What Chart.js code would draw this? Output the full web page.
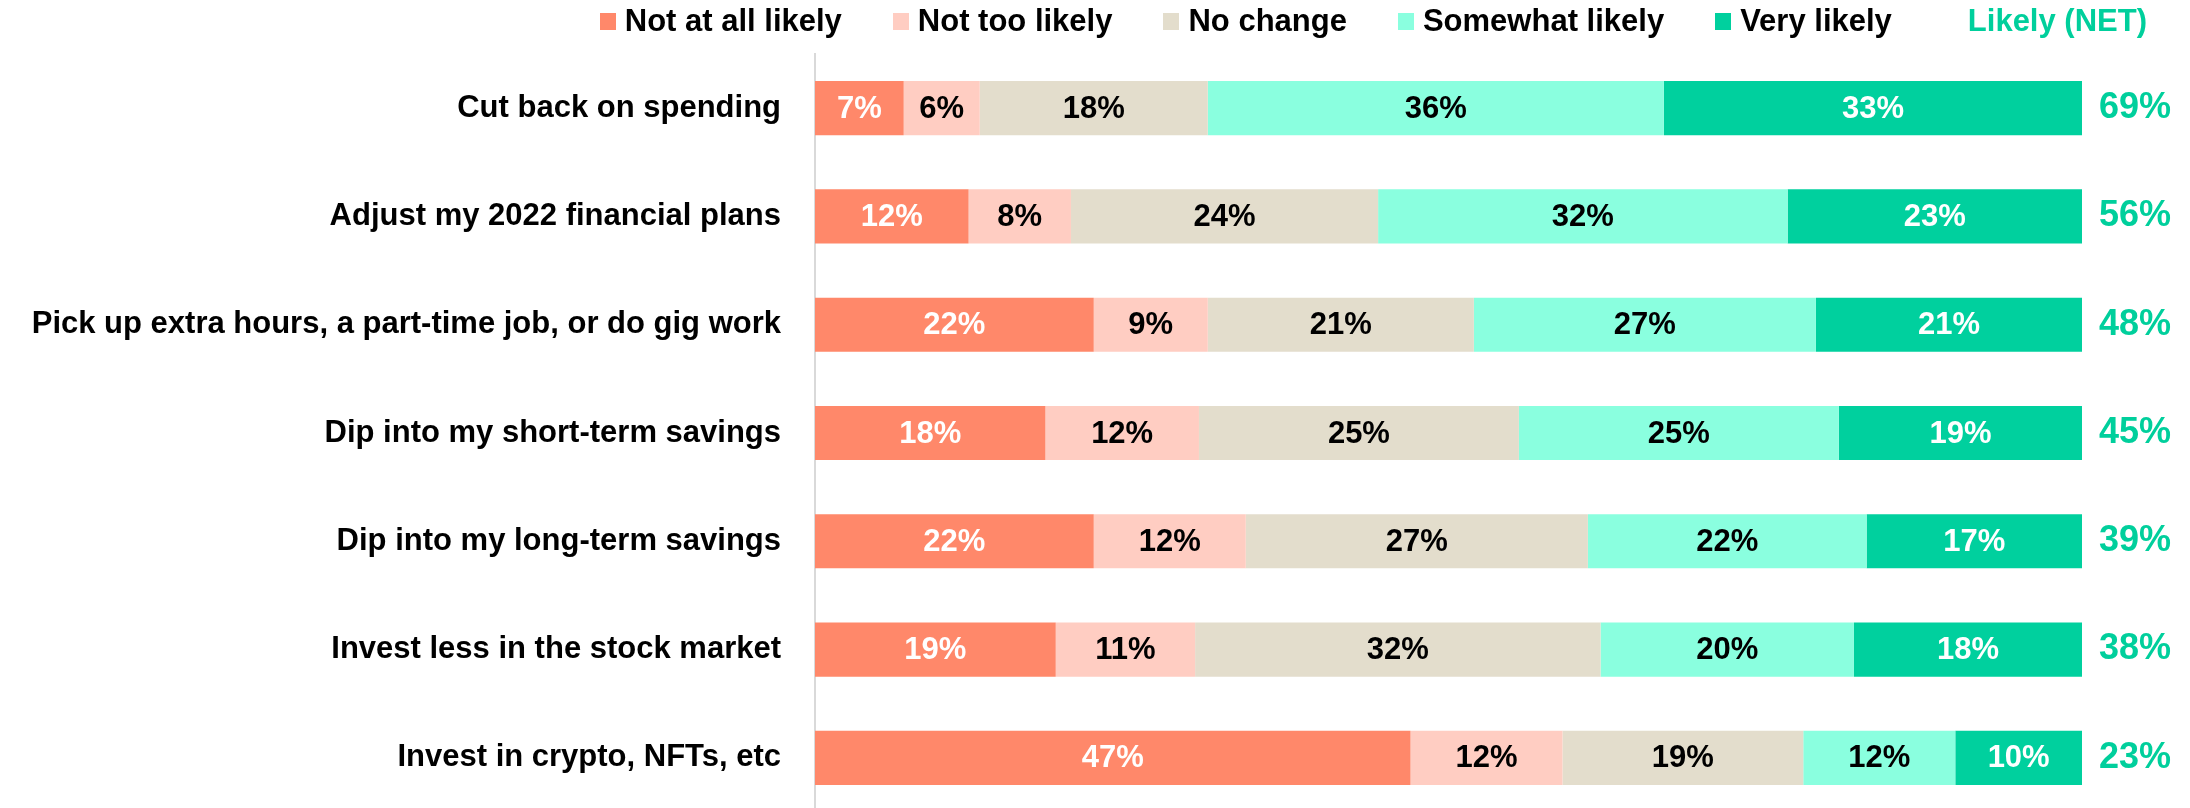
<!DOCTYPE html>
<html>
<head>
<meta charset="utf-8">
<script src="https://cdn.jsdelivr.net/npm/chart.js@4/dist/chart.umd.min.js"></script>
<style>
	html, body { margin: 0; padding: 0; background: #fff; overflow: hidden; }
	#wrap { position: relative; width: 2190px; height: 812px; }
	#likely-chart { display: block; }
	#legend {
		position: absolute; top: 0; right: 43px; height: 42px;
		display: flex; align-items: center; justify-content: flex-end;
		font-family: "Liberation Sans", Arial, sans-serif; font-weight: bold; font-size: 31px;
		color: #000; white-space: nowrap;
	}
	#legend .item { display: flex; align-items: center; margin-left: 51px; }
	#legend .item:first-child { margin-left: 0; }
	#legend .box { width: 16px; height: 17px; margin-right: 9px; }
	#legend .net { margin-left: 76px; color: #00cf9c; }
</style>
</head>
<body>
<div id="wrap">
	<canvas id="likely-chart" width="2190" height="812"></canvas>
	<div id="legend"></div>
</div>
<script>
// survey answers, share of respondents (%)
const categories = [
	"Cut back on spending",
	"Adjust my 2022 financial plans",
	"Pick up extra hours, a part-time job, or do gig work",
	"Dip into my short-term savings",
	"Dip into my long-term savings",
	"Invest less in the stock market",
	"Invest in crypto, NFTs, etc",
];
const not_At_All_Likely = [7, 12, 22, 18, 22, 19, 47];
const not_Too_Likely = [6, 8, 9, 12, 12, 11, 12];
const no_Change = [18, 24, 21, 25, 27, 32, 19];
const somewhat_Likely = [36, 32, 27, 25, 22, 20, 12];
const very_Likely = [33, 23, 21, 19, 17, 18, 10];
const likely_Net = [69, 56, 48, 45, 39, 38, 23];

const series = [
	{ label: "Not at all likely", values: not_At_All_Likely, color: "#ff886a", text: "#ffffff" },
	{ label: "Not too likely", values: not_Too_Likely, color: "#ffcdc2", text: "#000000" },
	{ label: "No change", values: no_Change, color: "#e3ddcc", text: "#000000" },
	{ label: "Somewhat likely", values: somewhat_Likely, color: "#8affdf", text: "#000000" },
	{ label: "Very likely", values: very_Likely, color: "#00d09e", text: "#ffffff" },
];

// rounded answers do not always add to 100, scale each row so the bars fill
const row_Totals = categories.map((c, i) =>
	series.reduce((sum, s) => sum + s.values[i], 0)
);

Chart.defaults.font.family = '"Liberation Sans", Arial, sans-serif';

// html legend
const legend = document.getElementById("legend");
series.forEach((s) => {
	const item = document.createElement("div");
	item.className = "item";
	item.innerHTML = '<span class="box" style="background:' + s.color + '"></span>' + s.label;
	legend.appendChild(item);
});
const net_Item = document.createElement("div");
net_Item.className = "item net";
net_Item.textContent = "Likely (NET)";
legend.appendChild(net_Item);

// percentage labels inside the bar segments
const segmentLabels = {
	id: "segmentLabels",
	afterDatasetsDraw(chart) {
		const ctx = chart.ctx;
		ctx.save();
		ctx.font = "bold 31px " + Chart.defaults.font.family;
		ctx.textAlign = "center";
		ctx.textBaseline = "middle";
		chart.data.datasets.forEach((ds, d) => {
			const meta = chart.getDatasetMeta(d);
			meta.data.forEach((bar, i) => {
				ctx.fillStyle = series[d].text;
				const cx = (bar.x + bar.base) / 2;
				ctx.fillText(series[d].values[i] + "%", cx, bar.y + 1);
			});
		});
		ctx.restore();
	},
};

// fixed axis widths, and no extra top/bottom room for the tick labels
function fixAxis(width) {
	return (axis) => {
		axis.width = width;
		axis.paddingTop = 0;
		axis.paddingBottom = 0;
	};
}

let likely_chart = document.getElementById("likely-chart").getContext("2d");

new Chart(likely_chart, {
	type: "bar",
	data: {
		labels: categories,
		datasets: series.map((s) => ({
			label: s.label,
			data: s.values.map((v, i) => (v / row_Totals[i]) * 100),
			backgroundColor: s.color,
			borderWidth: 0,
			barPercentage: 0.5,
			categoryPercentage: 1,
		})),
	},
	options: {
		indexAxis: "y",
		responsive: false,
		animation: false,
		devicePixelRatio: 1,
		layout: { padding: { top: 54, left: 0, right: 0, bottom: 0 } },
		plugins: {
			legend: { display: false },
			tooltip: { enabled: false },
		},
		scales: {
			x: {
				stacked: true,
				min: 0,
				max: 100,
				display: false,
			},
			y: {
				stacked: true,
				position: "left",
				grid: { display: false, drawTicks: false },
				border: { display: true, color: "#d9d9d9", width: 2 },
				ticks: {
					color: "#000",
					padding: 34,
					font: { size: 31, weight: "bold" },
				},
				afterFit: fixAxis(815),
			},
			net: {
				type: "category",
				position: "right",
				offset: true,
				labels: likely_Net.map((v) => v + "%"),
				grid: { display: false, drawTicks: false },
				border: { display: false },
				ticks: {
					color: "#00cf9c",
					padding: 17,
					font: { size: 36, weight: "bold" },
				},
				afterFit: fixAxis(108),
			},
		},
	},
	plugins: [segmentLabels],
});
</script>
</body>
</html>
